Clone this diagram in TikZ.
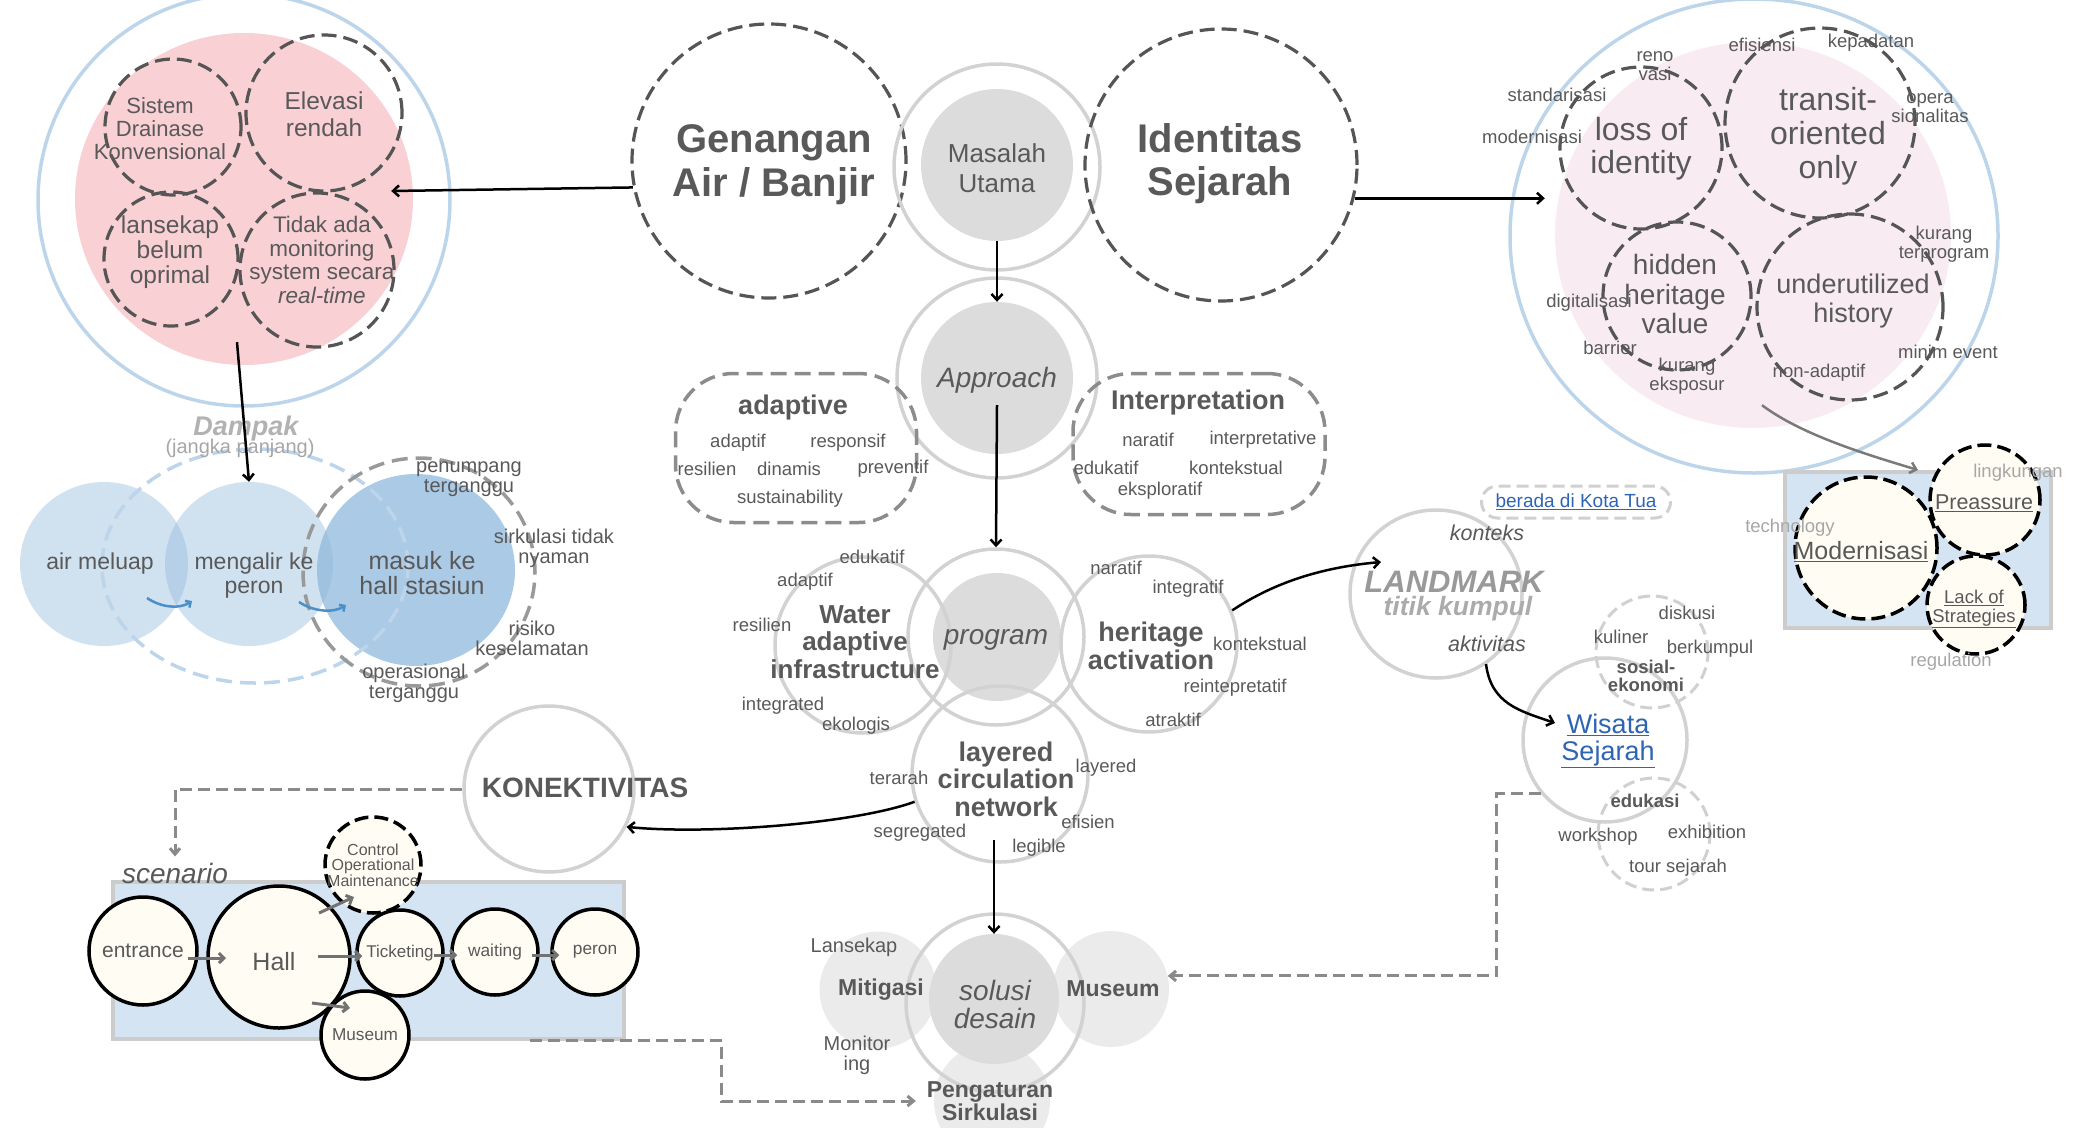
\documentclass[tikz,border=0pt]{standalone}
\usepackage{fontspec}
\setmainfont{Liberation Sans}
\usepackage{xcolor}
\usepackage{tikz}
\usetikzlibrary{positioning, shapes, arrows.meta, calc}

\definecolor{txtgray}{HTML}{595959}
\definecolor{ringgray}{HTML}{D2D2D2}
\definecolor{coregray}{HTML}{DCDCDC}
\definecolor{satgray}{HTML}{EBEBEB}
\definecolor{dashdark}{HTML}{555555}
\definecolor{boxgray}{HTML}{8C8C8C}
\definecolor{lightdash}{HTML}{D0D0D0}
\definecolor{skyline}{HTML}{BDD5EA}
\definecolor{pinkfill}{HTML}{F9D0D4}
\definecolor{pinklight}{HTML}{F8ECF2}
\definecolor{waterblue}{RGB}{143,184,220}
\definecolor{flowblue}{HTML}{4A8FC7}
\definecolor{panelgray}{HTML}{CCCCCC}
\definecolor{panelblue}{HTML}{D5E4F2}
\definecolor{cream}{HTML}{FFFDF3}
\definecolor{linkblue}{HTML}{2E64B4}
\definecolor{faint}{HTML}{A6A6A6}
\definecolor{linegray}{HTML}{8A8A8A}

\newcommand{\fsz}[2]{\fontsize{#1}{#2}\selectfont}

\begin{document}
\begin{tikzpicture}[x=1pt, y=-1pt,
      ring/.style={circle, draw=ringgray, line width=3.5pt, inner sep=0pt},
      core/.style={circle, fill=coregray, inner sep=0pt},
      sat/.style={circle, fill=satgray, inner sep=0pt},
      dashc/.style={circle, draw=dashdark, line width=3.2pt, dash pattern=on 15pt off 7pt, inner sep=0pt},
      softc/.style={circle, draw=lightdash, line width=3pt, dash pattern=on 12pt off 6pt, inner sep=0pt},
      dbox/.style={rectangle, rounded corners=58pt, draw=boxgray, line width=3.5pt, dash pattern=on 16pt off 8pt, inner sep=0pt},
      waterc/.style={ellipse, fill=waterblue, fill opacity=0.42, inner sep=0pt},
      panel/.style={rectangle, draw=panelgray, fill=panelblue, line width=4pt, inner sep=0pt},
      creams/.style={circle, fill=cream, draw=black, line width=3.5pt, inner sep=0pt, text=txtgray},
      creamd/.style={creams, dash pattern=on 14pt off 6pt},
      txt/.style={text=txtgray, align=center, inner sep=0pt},
      kw/.style={txt, font=\fsz{18.5}{19.5}},
      hd/.style={txt, font=\fsz{27}{28}\bfseries},
      arr/.style={line width=2.5pt, -{Straight Barb[length=6pt,width=11pt]}},
      garr/.style={draw=txtgray!80, line width=2.5pt, -{Straight Barb[length=6pt,width=11pt]}},
      sarr/.style={draw=txtgray!85, line width=3pt, -{Straight Barb[length=5pt,width=10pt]}},
      barr/.style={draw=flowblue, line width=2.5pt, -{Straight Barb[length=4pt,width=8pt]}},
      dline/.style={draw=linegray, line width=3pt, dash pattern=on 12pt off 6pt, -{Straight Barb[length=6pt,width=10pt]}}
    ]
      \useasboundingbox (0,0) rectangle (2093,1127);

      % Banjir cluster
      \node[circle, draw=skyline, line width=3.5pt, minimum size=412pt, inner sep=0pt] (floodRing) at (244,200) {};
      \node[ellipse, fill=pinkfill, minimum width=338pt, minimum height=332pt, inner sep=0pt] (floodFill) at (244,199) {};
      \node[dashc, minimum size=136pt] (drain) at (173,127) {};
      \node[dashc, minimum size=156pt] (elev) at (324,113) {};
      \node[dashc, minimum size=134pt] (lans) at (171,259) {};
      \node[dashc, minimum size=154pt] (monit) at (317,270) {};
      \node[txt, font=\fsz{22}{23}] (tDrain) at (160,129) {Sistem\\Drainase\\Konvensional};
      \node[txt, font=\fsz{24.5}{27}] (tElev) at (324,114) {Elevasi\\rendah};
      \node[txt, font=\fsz{24.5}{25}] (tLans) at (170,252) {lansekap\\belum\\oprimal};
      \node[txt, font=\fsz{22.5}{23.5}] (tMonit) at (322,260) {Tidak ada\\monitoring\\system secara\\\textit{real-time}};

      % Masalah utama
      \node[dashc, minimum size=274pt] (genangan) at (769,161) {};
      \node[txt, font=\fsz{40}{44}\bfseries] (tGenangan) at (774,165) {Genangan\\Air / Banjir};
      \node[ring, minimum size=206pt] (masalahRing) at (997,167) {};
      \node[core, minimum size=152pt] (masalah) at (997,165) {};
      \node[txt, font=\fsz{26}{30}] (tMasalah) at (997,168) {Masalah\\Utama};
      \node[dashc, minimum size=272pt] (identitas) at (1221,165) {};
      \node[txt, font=\fsz{40}{43}\bfseries] (tIdentitas) at (1220,164) {Identitas\\Sejarah};

      % Approach
      \node[ring, minimum size=200pt] (approachRing) at (997,378) {};
      \node[core, minimum size=152pt] (approach) at (997,378) {};
      \node[txt, font=\fsz{28}{28}\itshape] (tApproach) at (997,380) {Approach};

      \node[dbox, minimum width=241pt, minimum height=149pt] (adaptBox) at (796,448) {};
      \node[hd] (tAdaptive) at (793,408) {adaptive};
      \node[kw] (a1) at (738,443) {adaptif};
      \node[kw] (a2) at (848,443) {responsif};
      \node[kw] (a3) at (707,469) {resilien};
      \node[kw] (a4) at (789,469) {dinamis};
      \node[kw] (a5) at (893,469) {preventif};
      \node[kw] (a6) at (790,499) {sustainability};

      \node[dbox, minimum width=252pt, minimum height=141pt] (interpBox) at (1199,444) {};
      \node[hd] (tInterp) at (1198,403) {Interpretation};
      \node[kw] (i1) at (1148,440) {naratif};
      \node[kw] (i2) at (1263,440) {interpretative};
      \node[kw] (i3) at (1106,468) {edukatif};
      \node[kw] (i4) at (1236,468) {kontekstual};
      \node[kw] (i5) at (1160,491) {eksploratif};

      % Program
      \node[core, minimum size=128pt] (program) at (997,637) {};
      \node[ring, minimum size=176pt] (programRing) at (996,637) {};
      \node[ring, minimum size=176pt] (waterRing) at (863,645) {};
      \node[ring, minimum size=176pt] (heritageRing) at (1149,644) {};
      \node[ring, minimum size=176pt] (layeredRing) at (1000,774) {};
      \node[txt, font=\fsz{28}{28}\itshape] (tProgram) at (996,640) {program};
      \node[txt, font=\fsz{26}{27.5}\bfseries] (tWater) at (855,642) {Water\\adaptive\\infrastructure};
      \node[txt, font=\fsz{27}{28}\bfseries] (tHeritage) at (1151,646) {heritage\\activation};
      \node[txt, font=\fsz{27}{27.5}\bfseries] (tLayered) at (1006,779) {layered\\circulation\\network};
      \node[kw] (w1) at (872,557) {edukatif};
      \node[kw] (w2) at (805,582) {adaptif};
      \node[kw] (w3) at (762,625) {resilien};
      \node[kw] (w4) at (783,706) {integrated};
      \node[kw] (w5) at (856,726) {ekologis};
      \node[kw] (h1) at (1116,568) {naratif};
      \node[kw] (h2) at (1188,589) {integratif};
      \node[kw] (h3) at (1260,644) {kontekstual};
      \node[kw] (h4) at (1235,688) {reintepretatif};
      \node[kw] (h5) at (1173,720) {atraktif};
      \node[kw] (l1) at (899,778) {terarah};
      \node[kw] (l2) at (1106,768) {layered};
      \node[kw] (l3) at (1088,822) {efisien};
      \node[kw] (l4) at (920,833) {segregated};
      \node[kw] (l5) at (1039,848) {legible};

      % Solusi desain
      \node[sat, minimum size=117pt] (mitigasi) at (878,990) {};
      \node[sat, minimum size=116pt] (museumS) at (1111,989) {};
      \node[sat, minimum size=116pt] (pengaturan) at (992,1101) {};
      \node[core, minimum size=130pt] (solusi) at (994,999) {};
      \node[ring, minimum size=178pt] (solusiRing) at (995,1003) {};
      \node[txt, font=\fsz{28}{28}\itshape] (tSolusi) at (995,1004) {solusi\\desain};
      \node[txt, font=\fsz{23}{23}\bfseries] (tMitigasi) at (881,990) {Mitigasi};
      \node[txt, font=\fsz{23}{23}\bfseries] (tMuseumS) at (1113,989) {Museum};
      \node[txt, font=\fsz{23}{23}\bfseries] (tPengaturan) at (990,1101) {Pengaturan\\Sirkulasi};
      \node[txt, font=\fsz{20}{20}] (tLansekap) at (854,947) {Lansekap};
      \node[txt, font=\fsz{20}{20}] (tMonitor) at (857,1055) {Monitor\\ing};

      % Identitas cluster
      \node[ellipse, draw=skyline, line width=3.5pt, minimum width=488pt, minimum height=474pt, inner sep=0pt] (heritageOut) at (1754,236) {};
      \node[ellipse, fill=pinklight, minimum width=396pt, minimum height=386pt, inner sep=0pt] (pinkR) at (1753,235) {};
      \node[dashc, minimum size=162pt] (loss) at (1641,148) {};
      \node[dashc, minimum size=190pt] (transit) at (1820,123) {};
      \node[dashc, minimum size=148pt] (hidden) at (1677,296) {};
      \node[dashc, minimum size=186pt] (under) at (1850,307) {};
      \node[txt, font=\fsz{32}{33}] (tLoss) at (1641,149) {loss of\\identity};
      \node[txt, font=\fsz{32}{34}] (tTransit) at (1828,136) {transit-\\oriented\\only};
      \node[txt, font=\fsz{28}{29.5}] (tHidden) at (1675,294) {hidden\\heritage\\value};
      \node[txt, font=\fsz{27}{29}] (tUnder) at (1853,301) {underutilized\\history};
      \node[kw] (r1) at (1655,66) {reno\\vasi};
      \node[kw] (r2) at (1762,45) {efisiensi};
      \node[kw] (r3) at (1871,43) {kepadatan};
      \node[kw] (r4) at (1557,95) {standarisasi};
      \node[kw] (r5) at (1532,137) {modernisasi};
      \node[kw] (r6) at (1930,108) {opera\\sionalitas};
      \node[kw] (r7) at (1944,244) {kurang\\terprogram};
      \node[kw] (r8) at (1589,303) {digitalisasi};
      \node[kw] (r9) at (1610,348) {barrier};
      \node[kw] (r10) at (1687,376) {kurang\\eksposur};
      \node[kw] (r11) at (1948,352) {minim event};
      \node[kw] (r12) at (1819,373) {non-adaptif};

      % Modernisasi
      \node[panel, minimum width=266pt, minimum height=156pt] (modPanel) at (1918,550) {};
      \node[creamd, minimum size=142pt] (modern) at (1866,548) {};
      \node[creamd, minimum size=110pt] (preassure) at (1985,500) {};
      \node[creamd, minimum size=98pt] (lack) at (1976,605) {};
      \node[txt, font=\fsz{25}{25}] (tModern) at (1861,552) {\underline{Modernisasi}};
      \node[txt, font=\fsz{21.5}{22}] (tPreassure) at (1984,503) {\underline{Preassure}};
      \node[txt, font=\fsz{18.5}{19}] (tLack) at (1974,609) {\underline{Lack of}\\\underline{Strategies}};
      \node[kw, text=faint] (m1) at (2018,473) {lingkungan};
      \node[kw, text=faint] (m2) at (1790,528) {technology};
      \node[kw, text=faint] (m3) at (1951,662) {regulation};

      % Landmark dan wisata
      \node[rectangle, rounded corners=16pt, draw=lightdash, line width=3pt, dash pattern=on 12pt off 6pt, minimum width=189pt, minimum height=32pt, inner sep=0pt] (kotaTua) at (1576,502) {};
      \node[txt, text=linkblue, font=\fsz{19}{19}] (tKotaTua) at (1576,502) {\underline{berada di Kota Tua}};
      \node[ellipse, draw=ringgray, line width=3.5pt, minimum width=172pt, minimum height=168pt, inner sep=0pt] (landmark) at (1436,594) {};
      \node[txt, font=\fsz{21.5}{22}\itshape] (tKonteks) at (1487,533) {konteks};
      \node[txt, text=black!40, font=\fsz{31}{31}\bfseries\itshape] (tLandmark) at (1454,582) {LANDMARK};
      \node[txt, text=black!33, font=\fsz{26.5}{27}\bfseries\itshape] (tTitik) at (1458,609) {titik kumpul};
      \node[txt, font=\fsz{21.5}{22}\itshape] (tAktivitas) at (1487,644) {aktivitas};
      \node[softc, minimum size=112pt] (sosial) at (1652,652) {};
      \node[ring, minimum size=164pt] (wisata) at (1605,740) {};
      \node[softc, minimum size=112pt] (edukasi) at (1654,834) {};
      \node[txt, text=linkblue, font=\fsz{27}{27}] (tWisata) at (1608,741) {\underline{Wisata}\\\underline{Sejarah}};
      \node[kw] (s1) at (1687,613) {diskusi};
      \node[kw] (s2) at (1621,637) {kuliner};
      \node[kw] (s3) at (1710,649) {berkumpul};
      \node[txt, font=\fsz{18.5}{18}\bfseries] (tSosial) at (1646,676) {sosial-\\ekonomi};
      \node[txt, font=\fsz{18.5}{19}\bfseries] (tEdukasi) at (1645,801) {edukasi};
      \node[kw] (e1) at (1598,837) {workshop};
      \node[kw] (e2) at (1707,832) {exhibition};
      \node[kw] (e3) at (1678,868) {tour sejarah};

      % Dampak
      \node[waterc, minimum width=168pt, minimum height=164pt] (air) at (104,564) {};
      \node[waterc, minimum width=168pt, minimum height=164pt] (mengalir) at (249,564) {};
      \node[ellipse, fill=waterblue, fill opacity=0.75, minimum width=198pt, minimum height=192pt, inner sep=0pt] (masuk) at (416,570) {};
      \node[ellipse, draw=skyline, line width=3.5pt, dash pattern=on 16pt off 8pt, minimum width=306pt, minimum height=234pt, inner sep=0pt] (dampakRing) at (255,566) {};
      \node[ellipse, draw=black!40, line width=3.5pt, dash pattern=on 16pt off 8pt, minimum width=232pt, minimum height=228pt, inner sep=0pt] (masukRing) at (419,572) {};
      \node[txt, text=black!30, font=\fsz{27}{27}\bfseries\itshape] (tDampak) at (246,429) {Dampak};
      \node[txt, text=faint, font=\fsz{20}{20}] (tJangka) at (240,448) {(jangka panjang)};
      \node[txt, font=\fsz{23}{23}] (tAir) at (100,564) {air meluap};
      \node[txt, font=\fsz{23}{24}] (tMengalir) at (254,576) {mengalir ke\\peron};
      \node[txt, font=\fsz{25}{25}] (tMasuk) at (422,573) {masuk ke\\hall stasiun};
      \node[txt, font=\fsz{20}{20}] (d1) at (469,479) {penumpang\\terganggu};
      \node[txt, font=\fsz{20}{20}] (d2) at (554,548) {sirkulasi tidak\\nyaman};
      \node[txt, font=\fsz{20}{20}] (d3) at (532,638) {risiko\\keselamatan};
      \node[txt, font=\fsz{20}{20}] (d4) at (414,683) {operasional\\terganggu};

      % Konektivitas dan scenario
      \node[ellipse, draw=ringgray, line width=3.5pt, minimum width=170pt, minimum height=166pt, inner sep=0pt] (konek) at (549,789) {};
      \node[txt, font=\fsz{28}{28}\bfseries] (tKonek) at (585,788) {KONEKTIVITAS};
      \node[panel, minimum width=511pt, minimum height=157pt] (scnPanel) at (368,960) {};
      \node[txt, font=\fsz{28}{28}\itshape] (tScenario) at (175,873) {scenario};
      \node[creams, minimum size=108pt, font=\fsz{21}{21}] (entrance) at (143,951) {entrance};
      \node[creams, minimum size=142pt] (hall) at (279,957) {};
      \node[txt, font=\fsz{25}{25}] (tHall) at (274,962) {Hall};
      \node[creamd, minimum size=96pt] (control) at (373,865) {};
      \node[txt, font=\fsz{16}{15.5}] (tControl) at (373,865) {Control\\Operational\\Maintenance};
      \node[creams, minimum size=86pt, font=\fsz{17}{17}] (ticketing) at (400,953) {Ticketing};
      \node[creams, minimum size=86pt, font=\fsz{17.3}{17}] (waiting) at (495,952) {waiting};
      \node[creams, minimum size=86pt, font=\fsz{17.3}{17}] (peron) at (595,952) {peron};
      \node[creams, minimum size=88pt, font=\fsz{17.2}{17}] (museumC) at (365,1035) {Museum};

      % Arrows
      \draw[arr] (masalah.south) -- (approach.north);
      \draw[arr] ($(approach.center)+(0,27)$) -- (programRing.north);
      \draw[arr] ($(layeredRing.center)+(-6,66)$) -- (solusi.north);
      \draw[arr] (genangan.191) -- ($(floodFill.east)+(-22,-8)$);
      \draw[arr] ($(floodFill.south)+(-7,-23)$) -- (mengalir.north);
      \draw[arr, shorten >=10pt] (identitas.346) -- (identitas.346 -| pinkR.west);
      \draw[garr] ($(pinkR.south)+(9,-23)$) .. controls +(40,30) and +(-50,-15) .. (modPanel.north);
      \draw[arr] (heritageRing.22) .. controls +(45,-30) and +(-55,5) .. ($(landmark.center)+(-55,-32)$);
      \draw[arr] ($(tAktivitas.center)+(-1,20)$) .. controls +(5,40) and +(-35,-12) .. ($(wisata.center)+(-50,-17)$);
      \draw[arr] (layeredRing.198) .. controls +(-60,22) and +(80,8) .. (konek.-26);
      \draw[barr] ($(air.center)+(43,34)$) .. controls +(15,10) and +(-12,8) .. ($(mengalir.center)+(-57,37)$);
      \draw[barr] ($(mengalir.center)+(50,38)$) .. controls +(15,10) and +(-12,8) .. ($(masuk.center)+(-70,35)$);

      % Dashed links
      \draw[dline, shorten >=6pt] (konek.west) -| (tScenario.north);
      \draw[dline] (wisata.220) -- ++(-44,0) |- (museumS.13);
      \draw[dline, shorten >=18pt] ($(scnPanel.south west)+(419,0)$) -- ++(192,0) |- (pengaturan.west);

      % Scenario arrows
      \draw[sarr] ($(entrance.center)+(45,7)$) -- ($(hall.center)+(-53,1)$);
      \draw[sarr] ($(hall.center)+(39,-1)$) -- ($(ticketing.west)+(7,3)$);
      \draw[sarr] ($(hall.center)+(40,-44)$) -- ($(control.center)+(-19,32)$);
      \draw[sarr] ($(hall.center)+(33,46)$) -- ($(museumC.center)+(-15,-27)$);
      \draw[sarr] ($(ticketing.east)+(-11,2)$) -- ($(waiting.west)+(7,3)$);
      \draw[sarr] ($(waiting.east)+(-8,3)$) -- ($(peron.west)+(9,3)$);
    \end{tikzpicture}
\end{document}
